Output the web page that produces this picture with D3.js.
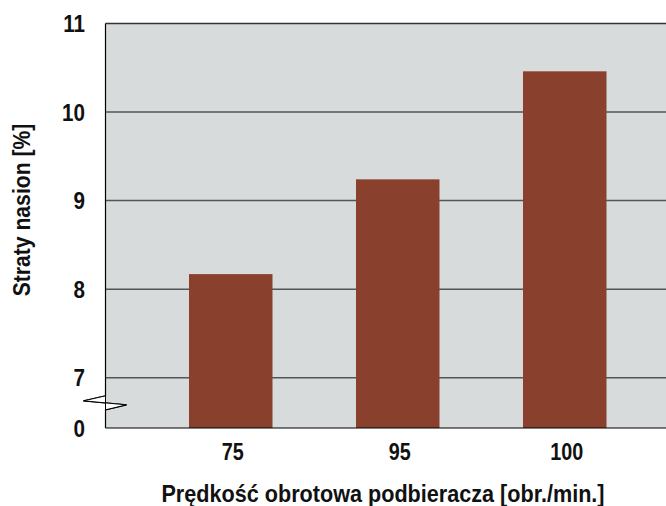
<!DOCTYPE html>
<html>
<head>
<meta charset="utf-8">
<script src="https://cdn.jsdelivr.net/npm/d3@7"></script>
<style>
  body { margin: 0; background: #fff; }
  text { font-family: "Liberation Sans", Arial, sans-serif; font-weight: bold; fill: #111; }
</style>
</head>
<body>
<script>
const width = 666,
  height = 506;

const categories = ['75', '95', '100'];
const values = [8.17, 9.24, 10.46];
const yTicks = [0, 7, 8, 9, 10, 11];
const gridTicks = [7, 8, 9, 10];

const margin = { left: 105.5, top: 23.5, bottom: 428 };
const narrow = 0.86;

const x = d3.scaleBand()
  .domain(categories)
  .range([margin.left, 690])
  .paddingInner(0.5)
  .paddingOuter(0.5);

// broken axis: 0..7 squeezed into the bottom strip
const y = d3.scaleLinear()
  .domain([0, 7, 11])
  .range([margin.bottom, 377.7, margin.top]);

const svg = d3.select('body').append('svg')
  .attr('width', width)
  .attr('height', height);

svg.append('rect')
  .attr('x', margin.left)
  .attr('y', margin.top)
  .attr('width', width - margin.left)
  .attr('height', margin.bottom - margin.top)
  .attr('fill', '#d7dbdc');

svg.append('g')
  .selectAll('line')
  .data(gridTicks)
  .enter().append('line')
  .attr('x1', margin.left)
  .attr('x2', width)
  .attr('y1', d => y(d))
  .attr('y2', d => y(d))
  .attr('stroke', '#555')
  .attr('stroke-width', 1.5);

svg.append('line')
  .attr('x1', margin.left)
  .attr('x2', width)
  .attr('y1', margin.top)
  .attr('y2', margin.top)
  .attr('stroke', '#333')
  .attr('stroke-width', 1.5);

svg.append('g')
  .selectAll('rect')
  .data(values)
  .enter().append('rect')
  .attr('x', (d, i) => x(categories[i]))
  .attr('width', x.bandwidth())
  .attr('y', d => y(d))
  .attr('height', d => y(0) - y(d))
  .attr('fill', '#89412e');

// axes lines
const breakY = (y(0) + y(7)) / 2;
svg.append('path')
  .attr('d', `M${margin.left},${margin.top}V${breakY - 7}L${margin.left - 22},${breakY - 2}` +
    `L${margin.left + 21},${breakY + 2}L${margin.left},${breakY + 7}V${margin.bottom}`)
  .attr('fill', 'none')
  .attr('stroke', '#000')
  .attr('stroke-width', 1.2);

svg.append('path')
  .attr('d', `M${margin.left},${breakY - 7}L${margin.left - 22},${breakY - 2}` +
    `L${margin.left + 21},${breakY + 2}L${margin.left},${breakY + 7}Z`)
  .attr('fill', '#fff')
  .attr('stroke', '#000')
  .attr('stroke-width', 1);

svg.append('line')
  .attr('x1', margin.left)
  .attr('x2', width)
  .attr('y1', margin.bottom)
  .attr('y2', margin.bottom)
  .attr('stroke', '#000')
  .attr('stroke-width', 1.2);

// tick labels
svg.append('g')
  .selectAll('text')
  .data(yTicks)
  .enter().append('text')
  .attr('transform', d => `translate(85,${y(d)}) scale(${narrow},1)`)
  .attr('dy', '0.36em')
  .attr('text-anchor', 'end')
  .attr('font-size', 24)
  .text(d => d);

svg.append('g')
  .selectAll('text')
  .data(categories)
  .enter().append('text')
  .attr('transform', d => `translate(${x(d) + x.bandwidth() / 2 + 2},460) scale(${narrow},1)`)
  .attr('text-anchor', 'middle')
  .attr('font-size', 23)
  .text(d => d);

svg.append('text')
  .attr('transform', 'translate(383,502) scale(0.94,1)')
  .attr('text-anchor', 'middle')
  .attr('font-size', 23)
  .text('Prędkość obrotowa podbieracza [obr./min.]');

svg.append('text')
  .attr('transform', 'translate(30,210) rotate(-90) scale(0.92,1)')
  .attr('text-anchor', 'middle')
  .attr('font-size', 23)
  .text('Straty nasion [%]');
</script>
</body>
</html>
